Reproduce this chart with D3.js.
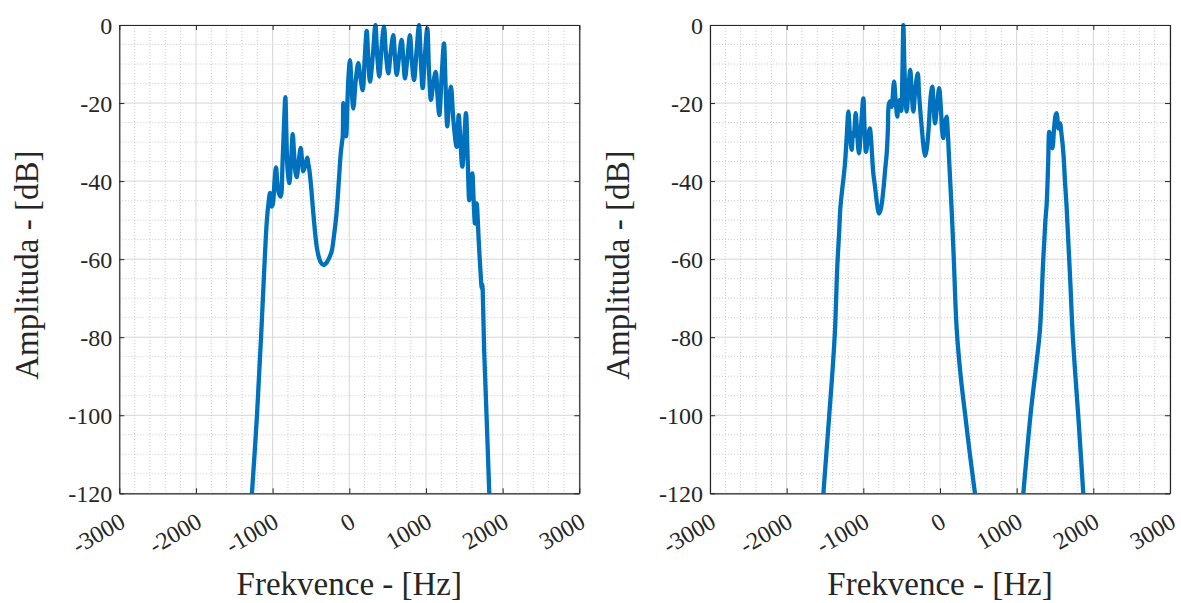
<!DOCTYPE html>
<html>
<head>
<meta charset="utf-8">
<script src="https://cdn.jsdelivr.net/npm/d3@7"></script>
<style>
  html, body { margin: 0; padding: 0; background: #ffffff; }
  svg { display: block; }
  text { font-family: 'Liberation Serif', 'Times New Roman', serif; }
</style>
</head>
<body>
<svg id="chart" width="1181" height="603"></svg>
<script>
// ---------- data ----------
const xTickValues = [-3000, -2000, -1000, 0, 1000, 2000, 3000];
const xTickLabels = ["-3000", "-2000", "-1000", "0", "1000", "2000", "3000"];
const yTickValues = [0, -20, -40, -60, -80, -100, -120];
const yTickLabels = ["0", "-20", "-40", "-60", "-80", "-100", "-120"];
const xLabelText = "Frekvence - [Hz]";
const yLabelText = "Amplituda - [dB]";

// left panel spectrum
const leftFreq = [-1270,-1204,-1151,-1103,-1075,-1050,-1034,-1015,-999,-975,-956,-940,-920,-895,-870,-845,-834,-822,-805,-782,-760,-738,-720,-700,-686,-660,-634,-615,-600,-575,-548,-535,-522,-500,-469,-425,-390,-360,-330,-300,-270,-230,-200,-170,-150,-130,-112,-95,-86,-78,-65,-55,-43,-25,-10,9,30,52,85,117,145,175,200,227,250,270,310,340,365,391,420,452,480,509,540,574,595,618,650,683,705,726,760,791,815,844,880,909,935,957,985,1017,1040,1065,1095,1127,1150,1174,1205,1235,1255,1278,1300,1326,1360,1400,1427,1450,1474,1500,1522,1545,1565,1585,1604,1622,1639,1650,1661,1690,1720,1727,1735,1745,1760,1790,1826];
const leftAmp  = [-120,-100,-80,-60,-50,-45,-43,-46.5,-46,-40,-36.5,-40,-43,-44,-35,-22,-18.5,-27,-37,-40.5,-35,-28,-33,-38,-39,-35,-31.5,-35,-37.5,-36,-34,-35.5,-37,-41,-48.3,-56.8,-60,-61.2,-61.5,-61,-60,-58,-54,-49,-44,-38,-33,-30,-28.6,-20,-24,-27.5,-28.5,-20,-13,-9,-16,-21.4,-14,-9.8,-13.5,-16.7,-9,-1.5,-10,-14.5,-7,0,-8,-13.2,-6,-0.4,-8,-12.4,-7,-2.6,-8,-12.8,-8,-3.8,-9,-13.7,-8,-2.6,-9,-14.1,-6,0,-10,-16.2,-8,-0.9,-12,-19.2,-15,-12,-18,-23.1,-13,-4.7,-15,-26,-20,-15.8,-25,-31.2,-23.1,-30,-36.3,-29,-22.6,-35,-44.9,-41,-38,-45,-50.9,-48,-45.7,-56,-66,-67.5,-66.5,-72,-84,-100,-120];

// right panel spectrum: main band and side band
const rightMainFreq = [-1521,-1443,-1400,-1369,-1340,-1315,-1300,-1275,-1261,-1239,-1215,-1195,-1175,-1152,-1135,-1125,-1100,-1080,-1057,-1030,-1000,-985,-965,-940,-915,-900,-890,-870,-847,-820,-795,-770,-739,-715,-695,-680,-665,-645,-630,-600,-580,-557,-540,-522,-505,-490,-478,-465,-450,-435,-410,-388,-370,-348,-320,-290,-275,-261,-235,-210,-194,-175,-150,-120,-100,-85,-65,-40,-11,10,28,43,65,85,100,120,152,180,218,270,326,390,456];
const rightMainAmp  = [-120,-99.5,-88,-78,-62,-53,-47,-42,-39.7,-35.4,-28,-22.2,-28,-32,-27.7,-28.5,-22.6,-28,-32.9,-26,-18.8,-26,-32.5,-29,-26.5,-29,-32,-38,-41.5,-46,-48.3,-47,-42.3,-37,-32.9,-27,-20.1,-19.5,-21,-14.5,-19,-23.5,-20,-19.2,-22,-12,0,-10,-18,-22.2,-16,-11.5,-17,-22.2,-16,-12.4,-17,-21,-27,-32,-33.5,-32,-27,-18,-15.8,-20,-25.2,-21,-16.2,-21,-27,-29,-25,-23.5,-27,-35,-47.4,-60,-78,-90,-99.5,-110,-120];
const rightSideFreq = [1087,1183,1250,1304,1347,1375,1391,1410,1425,1445,1465,1490,1510,1522,1535,1543,1565,1585,1610,1630,1650,1675,1700,1730,1770,1803,1869];
const rightSideAmp  = [-120,-99.5,-88,-78,-60,-50,-46,-36,-27.4,-30,-31.6,-26,-23,-22.6,-25,-26.5,-25.2,-28,-33,-40,-46,-56,-66,-79,-91,-100,-120];

// ---------- layout ----------
const svg = d3.select("#chart");
const W = 1181, H = 603;
svg.append("rect").attr("width", W).attr("height", H).attr("fill", "#ffffff");

const plotTop = 25, plotBottom = 493.3, plotWidth = 460;
const panels = [
  { left: 119.3, series: [[leftFreq, leftAmp]] },
  { left: 710, series: [[rightMainFreq, rightMainAmp], [rightSideFreq, rightSideAmp]] }
];
const serif = "'Liberation Serif', 'Times New Roman', serif";
const lineColor = "#0072BD";
const axisColor = "#262626";

panels.forEach((p, i) => {
  const x = d3.scaleLinear().domain([-3000, 3000]).range([p.left, p.left + plotWidth]);
  const y = d3.scaleLinear().domain([-120, 0]).range([plotBottom, plotTop]);
  const g = svg.append("g");

  // minor grid
  const xMinor = d3.range(-3000, 3001, 200).filter(v => v % 1000 !== 0);
  const yMinor = d3.range(-120, 1, 5).filter(v => v % 20 !== 0);
  g.append("g").selectAll("line").data(xMinor).join("line")
    .attr("x1", d => x(d)).attr("x2", d => x(d))
    .attr("y1", plotTop).attr("y2", plotBottom)
    .attr("stroke", "#bdbdbd").attr("stroke-width", 0.8).attr("stroke-dasharray", "1,2");
  g.append("g").selectAll("line").data(yMinor).join("line")
    .attr("y1", d => y(d)).attr("y2", d => y(d))
    .attr("x1", x(-3000)).attr("x2", x(3000))
    .attr("stroke", "#bdbdbd").attr("stroke-width", 0.8).attr("stroke-dasharray", "1,2");

  // major grid
  g.append("g").selectAll("line").data(xTickValues).join("line")
    .attr("x1", d => x(d)).attr("x2", d => x(d))
    .attr("y1", plotTop).attr("y2", plotBottom)
    .attr("stroke", "#d6d6d6").attr("stroke-width", 1);
  g.append("g").selectAll("line").data(yTickValues).join("line")
    .attr("y1", d => y(d)).attr("y2", d => y(d))
    .attr("x1", x(-3000)).attr("x2", x(3000))
    .attr("stroke", "#d6d6d6").attr("stroke-width", 1);

  // data lines
  const clipId = "clip" + i;
  svg.append("clipPath").attr("id", clipId).append("rect")
    .attr("x", x(-3000)).attr("y", plotTop - 2)
    .attr("width", plotWidth).attr("height", plotBottom - plotTop + 2);
  const line = d3.line().x(d => x(d[0])).y(d => y(d[1])).curve(d3.curveCatmullRom.alpha(0.5));
  p.series.forEach(([fs, as]) => {
    const pts = fs.map((f, k) => [f, as[k]]);
    g.append("path").datum(pts)
      .attr("d", line)
      .attr("fill", "none")
      .attr("stroke", lineColor)
      .attr("stroke-width", 4.3)
      .attr("stroke-linejoin", "round")
      .attr("stroke-linecap", "butt")
      .attr("clip-path", `url(#${clipId})`);
  });

  // axes (box with inward ticks)
  const tickLen = 5;
  const axB = d3.axisBottom(x).tickValues(xTickValues).tickSizeInner(-tickLen).tickSizeOuter(0).tickFormat((d, k) => xTickLabels[k]);
  const axT = d3.axisTop(x).tickValues(xTickValues).tickSizeInner(-tickLen).tickSizeOuter(0).tickFormat("");
  const axL = d3.axisLeft(y).tickValues(yTickValues).tickSizeInner(-tickLen).tickSizeOuter(0).tickFormat((d, k) => yTickLabels[k]);
  const axR = d3.axisRight(y).tickValues(yTickValues).tickSizeInner(-tickLen).tickSizeOuter(0).tickFormat("");

  const gB = g.append("g").attr("transform", `translate(0,${plotBottom})`).call(axB);
  const gT = g.append("g").attr("transform", `translate(0,${plotTop})`).call(axT);
  const gL = g.append("g").attr("transform", `translate(${x(-3000)},0)`).call(axL);
  const gR = g.append("g").attr("transform", `translate(${x(3000)},0)`).call(axR);
  [gB, gT, gL, gR].forEach(a => {
    a.attr("font-family", serif).attr("font-size", 24);
    a.select(".domain").attr("stroke", axisColor).attr("stroke-width", 1.2);
    a.selectAll(".tick line").attr("stroke", axisColor).attr("stroke-width", 1);
  });

  gL.selectAll(".tick text")
    .attr("x", -7).attr("dy", "0.35em")
    .style("font-family", serif).style("font-size", "24px").attr("fill", axisColor)
    .attr("text-anchor", "end");

  gB.selectAll(".tick text")
    .style("font-family", serif).style("font-size", "24px").attr("fill", axisColor)
    .attr("text-anchor", "end")
    .attr("x", 0).attr("y", 0).attr("dy", 0)
    .attr("transform", "translate(7,33) rotate(-30)");

  // axis titles
  svg.append("text")
    .attr("x", p.left + plotWidth / 2).attr("y", 595)
    .attr("text-anchor", "middle")
    .style("font-family", serif).style("font-size", "33px").attr("fill", axisColor)
    .text(xLabelText);
  svg.append("text")
    .attr("transform", `translate(${p.left - 81},${(plotTop + plotBottom) / 2 + 6}) rotate(-90)`)
    .attr("text-anchor", "middle")
    .style("font-family", serif).style("font-size", "33px").attr("fill", axisColor)
    .text(yLabelText);
});
</script>
</body>
</html>
